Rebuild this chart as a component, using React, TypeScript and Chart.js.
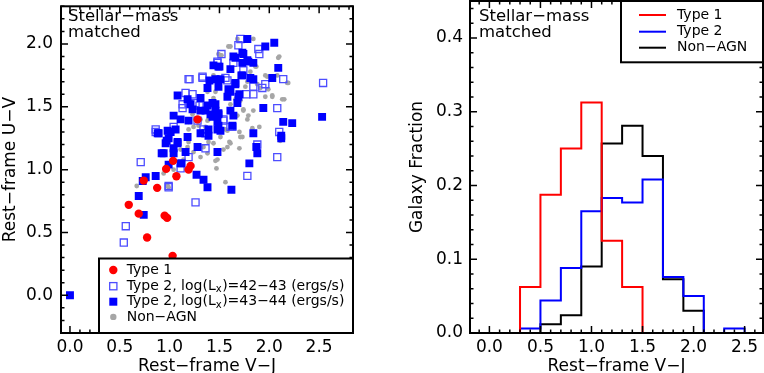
import React, { useEffect, useRef } from "react";
import { Chart, registerables } from "chart.js";

Chart.register(...registerables);

const FONT = "'DejaVu Sans', 'Liberation Sans', sans-serif";

// ---------- Left panel: Rest-frame U-V vs V-J ----------
const type1Points: [number, number][] = [
  [1.28, 1.40], [1.035, 1.07], [0.965, 1.006], [1.21, 1.03], [1.19, 1.0], [1.068, 0.947],
  [0.74, 0.913], [0.875, 0.855], [0.59, 0.72], [0.69, 0.65], [0.95, 0.634], [0.975, 0.616],
  [0.774, 0.46], [1.03, 0.314],
];

const type2LowPoints: [number, number][] = [
  [1.69, 1.99], [1.71, 2.04], [1.90, 1.92], [1.89, 1.96], [1.52, 1.92], [1.48, 1.86], [1.48, 1.85],
  [1.64, 1.85], [1.74, 1.79], [1.33, 1.73], [1.20, 1.72], [1.19, 1.72], [1.56, 1.73], [2.14, 1.72],
  [1.58, 1.71], [1.84, 1.66], [1.96, 1.68], [1.93, 1.65], [1.77, 1.60], [1.84, 1.60], [1.23, 1.60],
  [1.16, 1.61], [1.13, 1.52], [1.19, 1.53], [1.26, 1.53], [1.30, 1.51], [2.08, 1.49], [1.13, 1.49],
  [1.54, 1.39], [1.54, 1.40], [1.61, 1.34], [1.63, 1.34], [0.86, 1.30], [0.86, 1.32], [2.10, 1.30],
  [1.34, 1.32], [1.36, 1.29], [1.04, 1.34], [1.28, 1.39], [1.88, 1.20], [1.36, 1.17], [1.19, 1.10],
  [0.71, 1.06], [1.11, 1.01], [2.08, 1.10], [1.78, 0.95], [0.99, 0.87], [0.99, 0.86], [1.26, 0.74],
  [0.56, 0.55], [0.54, 0.42], [2.54, 1.69], [1.33, 1.74],
];

const type2HighPoints: [number, number][] = [
  [1.78, 2.04], [2.05, 2.01], [1.96, 1.98], [1.73, 1.93], [1.74, 1.92], [1.66, 1.89], [1.64, 1.90],
  [1.50, 1.82], [1.61, 1.80], [1.78, 1.87], [1.79, 1.86], [1.84, 1.85], [1.73, 1.85], [2.09, 1.81],
  [1.49, 1.82], [1.44, 1.83], [1.72, 1.75], [1.73, 1.75], [1.81, 1.73], [1.84, 1.72], [2.03, 1.73],
  [1.40, 1.71], [1.51, 1.72], [1.46, 1.72], [1.66, 1.68], [1.66, 1.69], [1.38, 1.65], [1.49, 1.66],
  [1.59, 1.64], [1.61, 1.62], [1.70, 1.60], [1.58, 1.58], [1.69, 1.58], [1.08, 1.59], [1.31, 1.57],
  [1.18, 1.56], [1.43, 1.53], [1.68, 1.53], [1.46, 1.52], [1.21, 1.52], [1.38, 1.51], [1.23, 1.48],
  [1.36, 1.47], [1.46, 1.47], [1.61, 1.47], [1.94, 1.49], [1.04, 1.43], [1.11, 1.40], [1.19, 1.39],
  [1.31, 1.47], [1.41, 1.44], [1.49, 1.45], [1.49, 1.44], [1.64, 1.43], [1.43, 1.42], [1.48, 1.38],
  [2.14, 1.38], [2.23, 1.37], [2.53, 1.42], [1.49, 1.35], [1.63, 1.35], [1.51, 1.31], [0.89, 1.29],
  [0.88, 1.29], [1.01, 1.30], [0.98, 1.31], [1.06, 1.32], [0.97, 1.23], [0.99, 1.25], [1.18, 1.26],
  [1.08, 1.22], [1.31, 1.29], [1.39, 1.32], [1.48, 1.32], [1.39, 1.27], [1.28, 1.18], [1.48, 1.14],
  [1.84, 1.29], [2.12, 1.27], [2.12, 1.25], [1.87, 1.18], [1.88, 1.13], [0.92, 1.13], [0.96, 1.21],
  [1.08, 1.21], [0.94, 1.13], [1.04, 1.13], [1.16, 1.14], [1.04, 1.17], [1.11, 1.05], [0.99, 1.04],
  [1.12, 1.05], [1.80, 1.05], [0.86, 0.95], [0.76, 0.94], [0.73, 0.91], [1.27, 0.96], [1.34, 0.92],
  [1.38, 0.86], [1.62, 0.84], [0.69, 0.79], [0.74, 0.64], [0.0, 0.0],
];

const nonAgnPoints: [number, number][] = [
  [1.68, 2.04], [1.84, 2.04], [1.61, 1.98], [1.59, 1.98], [1.51, 1.91], [1.52, 1.91], [2.10, 1.90],
  [2.09, 1.89], [1.86, 1.82], [1.87, 1.82], [1.81, 1.78], [1.44, 1.75], [1.98, 1.74], [1.96, 1.75],
  [2.08, 1.75], [2.18, 1.69], [2.19, 1.69], [1.88, 1.68], [1.78, 1.70], [1.91, 1.65], [1.99, 1.64],
  [1.76, 1.66], [2.03, 1.59], [2.03, 1.58], [2.15, 1.56], [2.13, 1.56], [1.96, 1.58], [1.66, 1.56],
  [1.71, 1.55], [1.61, 1.52], [1.44, 1.57], [1.38, 1.62], [1.46, 1.62], [1.49, 1.92], [1.84, 1.47],
  [1.74, 1.47], [1.74, 1.48], [1.68, 1.43], [1.79, 1.43], [1.78, 1.40], [1.90, 1.34], [1.83, 1.33],
  [1.70, 1.30], [1.73, 1.26], [1.38, 1.39], [1.31, 1.40], [1.39, 1.40], [1.19, 1.38], [1.24, 1.34],
  [1.23, 1.44], [1.29, 1.35], [1.19, 1.32], [1.36, 1.34], [1.58, 1.31], [1.56, 1.32], [1.51, 1.26],
  [1.61, 1.21], [1.60, 1.22], [1.71, 1.26], [1.70, 1.17], [1.44, 1.21], [1.34, 1.18], [1.18, 1.18],
  [1.19, 1.22], [1.39, 1.22], [1.24, 1.14], [1.38, 1.13], [1.58, 1.18], [1.54, 1.16], [1.48, 1.08],
  [1.46, 1.07], [1.47, 1.01], [1.31, 1.10], [1.14, 1.08], [0.94, 0.97], [1.04, 1.00], [1.56, 0.90],
  [0.67, 0.87], [0.99, 0.86], [0.98, 0.87], [1.11, 1.16], [2.11, 1.23],
];

const leftXTicks = [0, 0.5, 1.0, 1.5, 2.0, 2.5];
const leftYTicks = [0, 0.5, 1.0, 1.5, 2.0];

// ---------- Right panel: histogram of V-J ----------
const binEdges = [0.3, 0.5, 0.7, 0.9, 1.1, 1.3, 1.5, 1.7, 1.9, 2.1, 2.3, 2.5];
const type1Frac = [0.0625, 0.1875, 0.25, 0.3125, 0.125, 0.0625, 0, 0, 0, 0, 0];
const type2Frac = [0.006, 0.044, 0.088, 0.165, 0.183, 0.177, 0.208, 0.076, 0.05, 0, 0.006];
const nonAgnFrac = [0, 0.012, 0.024, 0.09, 0.257, 0.281, 0.24, 0.073, 0.03, 0, 0];

const rightXTicks = [0, 0.5, 1.0, 1.5, 2.0, 2.5];
const rightYTicks = [0, 0.1, 0.2, 0.3, 0.4];

const annotationLines = ["Stellar\u2212mass", "matched"];
const xTitle = "Rest\u2212frame V\u2212J";
const leftYTitle = "Rest\u2212frame U\u2212V";
const rightYTitle = "Galaxy Fraction";

const toXY = (arr: [number, number][]) => arr.map(([x, y]) => ({ x, y }));
const histPoints = (edges: number[], frac: number[]) => {
  const pts = [{ x: edges[0], y: 0 }];
  frac.forEach((f, i) => pts.push({ x: edges[i], y: f }));
  pts.push({ x: edges[edges.length - 1], y: 0 });
  return pts;
};

function framePlugin(xMaj: number, xMin: number, yMaj: number, yMin: number) {
  return {
    id: "frame",
    afterDatasetsDraw(chart: any) {
      const { ctx, chartArea: a } = chart;
      const xs = chart.scales.x;
      const ys = chart.scales.y;
      ctx.save();
      ctx.strokeStyle = "#000";
      ctx.lineWidth = 1.5;
      ctx.beginPath();
      const doX = (step: number, len: number) => {
        for (let k = Math.ceil(xs.min / step - 1e-9); k * step <= xs.max + 1e-9; k++) {
          const p = xs.getPixelForValue(k * step);
          ctx.moveTo(p, a.bottom);
          ctx.lineTo(p, a.bottom - len);
          ctx.moveTo(p, a.top);
          ctx.lineTo(p, a.top + len);
        }
      };
      const doY = (step: number, len: number) => {
        for (let k = Math.ceil(ys.min / step - 1e-9); k * step <= ys.max + 1e-9; k++) {
          const p = ys.getPixelForValue(k * step);
          ctx.moveTo(a.left, p);
          ctx.lineTo(a.left + len, p);
          ctx.moveTo(a.right, p);
          ctx.lineTo(a.right - len, p);
        }
      };
      doX(xMaj, 7);
      doX(xMin, 3.5);
      doY(yMaj, 7);
      doY(yMin, 3.5);
      ctx.stroke();
      ctx.lineWidth = 2;
      ctx.strokeRect(a.left, a.top, a.right - a.left, a.bottom - a.top);
      ctx.restore();
    },
  };
}

const LEGEND_FONT = `14px ${FONT}`;
const LEGEND_SUB = `10px ${FONT}`;

const leftOverlay = {
  id: "leftOverlay",
  afterDraw(chart: any) {
    const { ctx, chartArea: a } = chart;
    ctx.save();
    ctx.fillStyle = "#000";
    ctx.textAlign = "left";
    ctx.textBaseline = "alphabetic";
    ctx.font = `16.5px ${FONT}`;
    ctx.fillText(annotationLines[0], a.left + 7, 21);
    ctx.fillText(annotationLines[1], a.left + 7, 36.5);

    const bx = 99;
    const by = 258.5;
    ctx.fillStyle = "#fff";
    ctx.fillRect(bx, by, a.right - bx, a.bottom - by);
    ctx.strokeStyle = "#000";
    ctx.lineWidth = 2;
    ctx.strokeRect(bx, by, a.right - bx, a.bottom - by);

    const mx = 113.3;
    const tx = 126.7;
    const rows = [270, 286.2, 301.7, 316.9];
    ctx.fillStyle = "#ff0000";
    ctx.beginPath();
    ctx.arc(mx, rows[0], 4.2, 0, Math.PI * 2);
    ctx.fill();
    ctx.strokeStyle = "#4d4dff";
    ctx.lineWidth = 1.3;
    ctx.strokeRect(mx - 3.6, rows[1] - 3.6, 7.2, 7.2);
    ctx.fillStyle = "#0000ff";
    ctx.fillRect(mx - 4, rows[2] - 4, 8, 8);
    ctx.fillStyle = "#a6a6a6";
    ctx.beginPath();
    ctx.arc(mx, rows[3], 3.2, 0, Math.PI * 2);
    ctx.fill();

    ctx.fillStyle = "#000";
    ctx.textBaseline = "middle";
    ctx.font = LEGEND_FONT;
    ctx.fillText("Type 1", tx, rows[0]);
    const drawLx = (y: number, range: string) => {
      let x = tx;
      ctx.font = LEGEND_FONT;
      const p1 = "Type 2, log(L";
      ctx.fillText(p1, x, y);
      x += ctx.measureText(p1).width;
      ctx.font = LEGEND_SUB;
      ctx.fillText("x", x, y + 3.5);
      x += ctx.measureText("x").width + 0.5;
      ctx.font = LEGEND_FONT;
      ctx.fillText(`)=${range} (ergs/s)`, x, y);
    };
    drawLx(rows[1], "42\u221243");
    drawLx(rows[2], "43\u221244");
    ctx.font = LEGEND_FONT;
    ctx.fillText("Non\u2212AGN", tx, rows[3]);
    ctx.restore();
  },
};

const rightOverlay = {
  id: "rightOverlay",
  afterDraw(chart: any) {
    const { ctx, chartArea: a } = chart;
    ctx.save();
    ctx.fillStyle = "#000";
    ctx.textAlign = "left";
    ctx.textBaseline = "alphabetic";
    ctx.font = `16.5px ${FONT}`;
    ctx.fillText(annotationLines[0], a.left + 9, 21);
    ctx.fillText(annotationLines[1], a.left + 9, 36.5);

    const bx = 239;
    const by = a.top;
    const bb = 62.3;
    ctx.fillStyle = "#fff";
    ctx.fillRect(bx, by, a.right - bx, bb - by);
    ctx.strokeStyle = "#000";
    ctx.lineWidth = 2;
    ctx.strokeRect(bx, by, a.right - bx, bb - by);

    const entries = [
      { label: "Type 1", color: "#ff0000" },
      { label: "Type 2", color: "#0000ff" },
      { label: "Non\u2212AGN", color: "#000000" },
    ];
    const rows = [15, 31.7, 47.7];
    ctx.font = LEGEND_FONT;
    ctx.textBaseline = "middle";
    entries.forEach((e, i) => {
      ctx.strokeStyle = e.color;
      ctx.lineWidth = 2;
      ctx.beginPath();
      ctx.moveTo(257, rows[i]);
      ctx.lineTo(284, rows[i]);
      ctx.stroke();
      ctx.fillStyle = "#000";
      ctx.fillText(e.label, 295, rows[i]);
    });
    ctx.restore();
  },
};

const tickFont = { family: FONT, size: 17 };
const titleFont = { family: FONT, size: 17 };

export default function App() {
  const leftRef = useRef<HTMLCanvasElement | null>(null);
  const rightRef = useRef<HTMLCanvasElement | null>(null);

  useEffect(() => {
    Chart.defaults.font.family = FONT;
    Chart.defaults.color = "#000";

    const left = new Chart(leftRef.current as HTMLCanvasElement, {
      type: "scatter",
      data: {
        datasets: [
          {
            label: "Type 1",
            data: toXY(type1Points),
            pointStyle: "circle",
            pointRadius: 4.2,
            backgroundColor: "#ff0000",
            borderColor: "#ff0000",
            borderWidth: 0,
            order: 0,
          },
          {
            label: "Type 2, log(Lx)=43-44 (ergs/s)",
            data: toXY(type2HighPoints),
            pointStyle: "rect",
            pointRadius: 5.6,
            backgroundColor: "#0000ff",
            borderColor: "#0000ff",
            borderWidth: 0,
            order: 1,
          },
          {
            label: "Type 2, log(Lx)=42-43 (ergs/s)",
            data: toXY(type2LowPoints),
            pointStyle: "rect",
            pointRadius: 5.0,
            backgroundColor: "rgba(255,255,255,0)",
            borderColor: "#4d4dff",
            borderWidth: 1.3,
            order: 2,
          },
          {
            label: "Non-AGN",
            data: toXY(nonAgnPoints),
            pointStyle: "circle",
            pointRadius: 2.4,
            backgroundColor: "#a6a6a6",
            borderColor: "#a6a6a6",
            borderWidth: 0,
            order: 3,
          },
        ],
      },
      options: {
        responsive: false,
        animation: false,
        devicePixelRatio: 1,
        layout: { padding: { left: 0, right: 29, top: 0, bottom: 0 } },
        plugins: { legend: { display: false }, tooltip: { enabled: false } },
        scales: {
          x: {
            type: "linear",
            min: -0.09,
            max: 2.84,
            grid: { display: false, drawTicks: false },
            border: { display: false },
            afterBuildTicks: (s: any) => {
              s.ticks = leftXTicks.map((v) => ({ value: v }));
            },
            afterFit: (s: any) => {
              s.height = 40;
              s.paddingLeft = 0;
              s.paddingRight = 0;
            },
            ticks: {
              font: tickFont,
              color: "#000",
              padding: 4.3,
              autoSkip: false,
              maxRotation: 0,
              callback: (v: any) => Number(v).toFixed(1),
            },
            title: {
              display: true,
              text: xTitle,
              font: titleFont,
              color: "#000",
              padding: { top: 0, bottom: -3.8 },
            },
          },
          y: {
            type: "linear",
            min: -0.3,
            max: 2.3,
            grid: { display: false, drawTicks: false },
            border: { display: false },
            afterBuildTicks: (s: any) => {
              s.ticks = leftYTicks.map((v) => ({ value: v }));
            },
            afterFit: (s: any) => {
              s.width = 61;
              s.paddingTop = 0;
              s.paddingBottom = 0;
            },
            ticks: {
              font: tickFont,
              color: "#000",
              padding: 8,
              autoSkip: false,
              callback: (v: any) => Number(v).toFixed(1),
            },
            title: {
              display: true,
              text: leftYTitle,
              font: titleFont,
              color: "#000",
              padding: { top: 0.8, bottom: 0 },
            },
          },
        },
      },
      plugins: [framePlugin(0.5, 0.1, 0.5, 0.1), leftOverlay],
    } as any);

    const histDataset = (label: string, frac: number[], color: string, order: number) => ({
      label,
      data: histPoints(binEdges, frac),
      stepped: "before",
      borderColor: color,
      backgroundColor: color,
      borderWidth: 2,
      pointRadius: 0,
      fill: false,
      order,
    });

    const right = new Chart(rightRef.current as HTMLCanvasElement, {
      type: "line",
      data: {
        datasets: [
          histDataset("Type 1", type1Frac, "#ff0000", 0),
          histDataset("Type 2", type2Frac, "#0000ff", 1),
          histDataset("Non-AGN", nonAgnFrac, "#000000", 2),
        ],
      },
      options: {
        responsive: false,
        animation: false,
        devicePixelRatio: 1,
        layout: { padding: { left: 0, right: 1, top: 1, bottom: 0 } },
        plugins: { legend: { display: false }, tooltip: { enabled: false } },
        scales: {
          x: {
            type: "linear",
            min: -0.19,
            max: 2.68,
            grid: { display: false, drawTicks: false },
            border: { display: false },
            afterBuildTicks: (s: any) => {
              s.ticks = rightXTicks.map((v) => ({ value: v }));
            },
            afterFit: (s: any) => {
              s.height = 40;
              s.paddingLeft = 0;
              s.paddingRight = 0;
            },
            ticks: {
              font: tickFont,
              color: "#000",
              padding: 4.3,
              autoSkip: false,
              maxRotation: 0,
              callback: (v: any) => Number(v).toFixed(1),
            },
            title: {
              display: true,
              text: xTitle,
              font: titleFont,
              color: "#000",
              padding: { top: 0, bottom: -3.8 },
            },
          },
          y: {
            type: "linear",
            min: 0,
            max: 0.45,
            grid: { display: false, drawTicks: false },
            border: { display: false },
            afterBuildTicks: (s: any) => {
              s.ticks = rightYTicks.map((v) => ({ value: v }));
            },
            afterFit: (s: any) => {
              s.width = 88;
              s.paddingTop = 0;
              s.paddingBottom = 0;
            },
            ticks: {
              font: tickFont,
              color: "#000",
              padding: 7,
              autoSkip: false,
              callback: (v: any) => Number(v).toFixed(1),
            },
            title: {
              display: true,
              text: rightYTitle,
              font: titleFont,
              color: "#000",
              padding: { top: 25.5, bottom: 0 },
            },
          },
        },
      },
      plugins: [framePlugin(0.5, 0.1, 0.1, 0.02), rightOverlay],
    } as any);

    return () => {
      left.destroy();
      right.destroy();
    };
  }, []);

  return (
    <div style={{ position: "fixed", left: 0, top: 0, width: 764, height: 373, background: "#fff", overflow: "hidden" }}>
      <canvas ref={leftRef} width={382} height={373} style={{ position: "absolute", left: 0, top: 0, width: 382, height: 373 }} />
      <canvas ref={rightRef} width={382} height={373} style={{ position: "absolute", left: 382, top: 0, width: 382, height: 373 }} />
    </div>
  );
}
